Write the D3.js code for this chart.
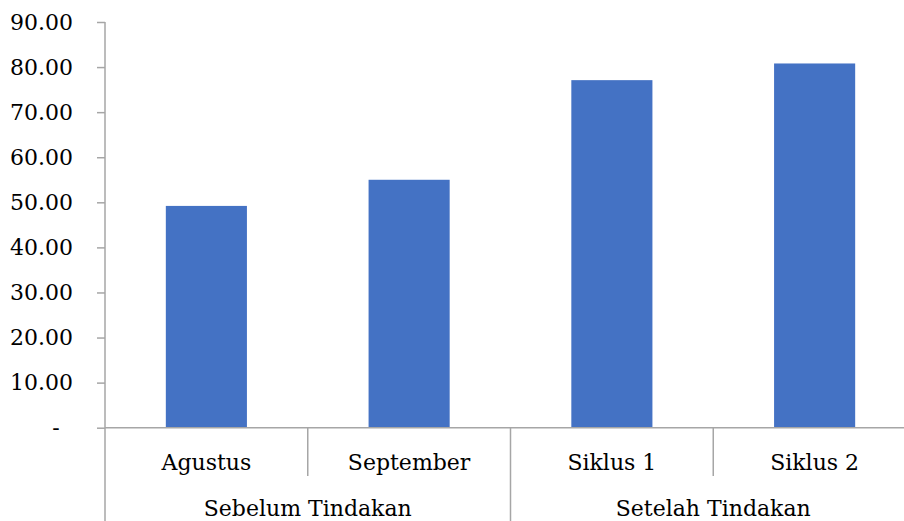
<!DOCTYPE html>
<html>
<head>
<meta charset="utf-8">
<script src="https://cdn.jsdelivr.net/npm/d3@7"></script>
<style>
  body { margin: 0; background: #fff; }
  text { font-family: "DejaVu Serif", "Liberation Serif", serif; fill: #000; }
</style>
</head>
<body>
<div id="chart-area"></div>
<script>
const categories = ["Agustus", "September", "Siklus 1", "Siklus 2"];
const groups = ["Sebelum Tindakan", "Sebelum Tindakan", "Setelah Tindakan", "Setelah Tindakan"];
const values = [49.2, 55.0, 77.1, 80.8];
const yTicks = [0, 10, 20, 30, 40, 50, 60, 70, 80, 90];

const width = 904, height = 521;
const axisColor = "#A6A6A6";
const fontSize = "22px";

// plot area edges
const plot = { left: 105, right: 916, top: 22, bottom: 427.7 };

const svg = d3.select('#chart-area').append('svg')
    .attr('width', width)
    .attr('height', height);

const x = d3.scaleBand().domain(categories).range([plot.left, plot.right]).paddingInner(0.6).paddingOuter(0.3);
const cell = d3.scaleBand().domain(categories).range([plot.left, plot.right]).padding(0);
const y = d3.scaleLinear().domain([0, 90]).range([plot.bottom, plot.top]);

// y axis
const yAxis = svg.append('g')
    .attr('transform', `translate(${plot.left},0)`)
    .call(d3.axisLeft(y).tickValues(yTicks).tickSize(8).tickPadding(24)
        .tickFormat(d => d === 0 ? "-" : d3.format(".2f")(d)));
yAxis.select('.domain').remove();
yAxis.selectAll('.tick line').attr('stroke', axisColor).attr('stroke-width', 1.5);
yAxis.selectAll('.tick text')
    .style('font-size', fontSize)
    .style('font-family', '"DejaVu Serif", serif');
yAxis.selectAll('.tick text').filter(d => d === 0)
    .attr('text-anchor', 'middle')
    .attr('x', 56 - plot.left);

// vertical axis line down to the bottom
svg.append('line')
    .attr('x1', plot.left).attr('x2', plot.left)
    .attr('y1', plot.top).attr('y2', height)
    .attr('stroke', axisColor).attr('stroke-width', 1.5);

// bars
svg.selectAll('.bar')
    .data(categories)
    .enter().append('rect')
    .attr('class', 'bar')
    .attr('x', d => x(d))
    .attr('y', (d, i) => y(values[i]))
    .attr('width', x.bandwidth())
    .attr('height', (d, i) => y(0) - y(values[i]))
    .attr('fill', '#4472C4');

// baseline
svg.append('line')
    .attr('x1', plot.left).attr('x2', width)
    .attr('y1', y(0)).attr('y2', y(0))
    .attr('stroke', axisColor).attr('stroke-width', 1.5);

// dividers between categories
categories.slice(1).forEach((c, i) => {
    const newGroup = groups[i + 1] !== groups[i];
    svg.append('line')
        .attr('x1', cell(c)).attr('x2', cell(c))
        .attr('y1', y(0)).attr('y2', newGroup ? height : 476)
        .attr('stroke', axisColor).attr('stroke-width', 1.5);
});

// category labels
svg.selectAll('.cat-label')
    .data(categories)
    .enter().append('text')
    .attr('class', 'cat-label')
    .attr('x', d => cell(d) + cell.bandwidth() / 2)
    .attr('y', 470)
    .attr('text-anchor', 'middle')
    .style('font-size', fontSize)
    .text(d => d);

// group labels
const groupNames = Array.from(new Set(groups));
svg.selectAll('.group-label')
    .data(groupNames)
    .enter().append('text')
    .attr('class', 'group-label')
    .attr('x', g => {
        const members = categories.filter((c, i) => groups[i] === g);
        return (cell(members[0]) + cell(members[members.length - 1]) + cell.bandwidth()) / 2;
    })
    .attr('y', 516)
    .attr('text-anchor', 'middle')
    .style('font-size', fontSize)
    .text(g => g);
</script>
</body>
</html>
